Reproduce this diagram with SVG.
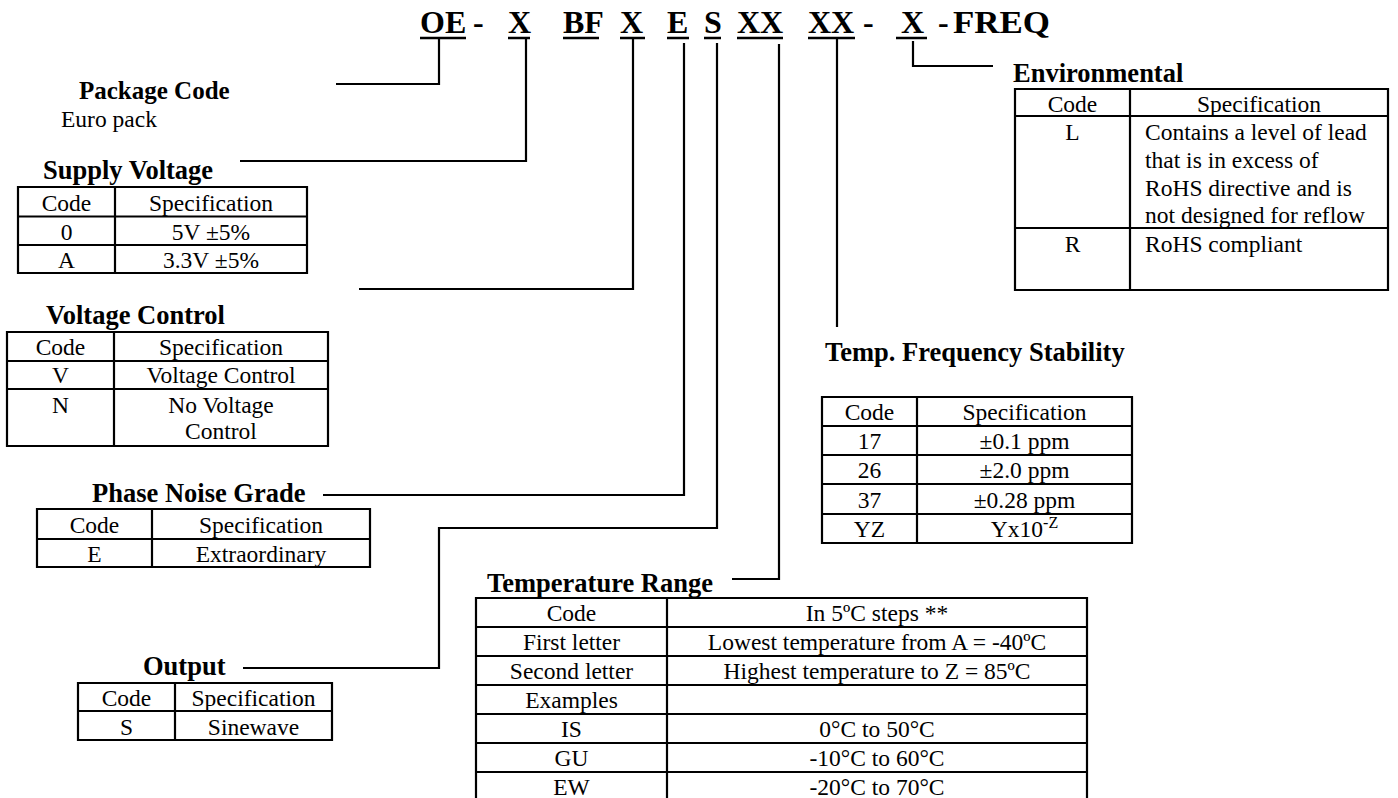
<svg xmlns="http://www.w3.org/2000/svg" width="1398" height="798" viewBox="0 0 1398 798">
<style>
text{font-family:"Liberation Serif","Times New Roman",serif;fill:#000}
.h{font-size:32px;font-weight:bold}
.b{font-size:26.5px;font-weight:bold}
.p{font-size:25px;font-weight:bold}
.t{font-size:23.5px}
.c{text-anchor:middle}
.ln{fill:none;stroke:#000;stroke-width:2.2}
.ul{fill:none;stroke:#000;stroke-width:2.6}
.tb{fill:none;stroke:#000;stroke-width:2.2}
</style>
<rect width="1398" height="798" fill="#fff"/>

<g id="part-number">
<text class="h" x="420" y="32.5">OE</text>
<text class="h" x="473" y="32.5">-</text>
<text class="h" x="508" y="32.5">X</text>
<text class="h" x="563" y="32.5">BF</text>
<text class="h" x="620" y="32.5">X</text>
<text class="h" x="667" y="32.5">E</text>
<text class="h" x="704" y="32.5">S</text>
<text class="h" x="737" y="32.5">XX</text>
<text class="h" x="808" y="32.5">XX</text>
<text class="h" x="863" y="32.5">-</text>
<text class="h" x="901" y="32.5">X</text>
<text class="h" x="938" y="32.5">-</text>
<text class="h" x="953" y="32.5" textLength="97" lengthAdjust="spacingAndGlyphs">FREQ</text>
<path class="ul" d="M420 38H466M508 38H530M563 38H599M620 38H645M667 38H689M704 38H721M737 38H783M808 38H855M896 38H927"/>
</g>

<g id="connectors">
<path class="ln" d="M439 39V84H336"/>
<path class="ln" d="M526 39V161H240"/>
<path class="ln" d="M633 39V289H359"/>
<path class="ln" d="M684 43V495H323"/>
<path class="ln" d="M717 43V528H439V668H243"/>
<path class="ln" d="M779 44V579H732"/>
<path class="ln" d="M837 39V327"/>
<path class="ln" d="M913 41V66H993"/>
</g>

<g id="package-code">
<text class="p" x="79" y="99">Package Code</text>
<text class="t" x="61" y="127">Euro pack</text>
</g>

<g id="supply-voltage">
<text class="b" x="43" y="179">Supply Voltage</text>
<path class="tb" d="M18 187H307V273H18ZM115 187V273M18 216.5H307M18 245H307"/>
<text class="t c" x="66.5" y="211">Code</text>
<text class="t c" x="211" y="211">Specification</text>
<text class="t c" x="66.5" y="240">0</text>
<text class="t c" x="211" y="240">5V ±5%</text>
<text class="t c" x="66.5" y="268">A</text>
<text class="t c" x="211" y="268">3.3V ±5%</text>
</g>

<g id="voltage-control">
<text class="b" x="46" y="324">Voltage Control</text>
<path class="tb" d="M7 332H328V446H7ZM114 332V446M7 361H328M7 389H328"/>
<text class="t c" x="60.5" y="355">Code</text>
<text class="t c" x="221" y="355">Specification</text>
<text class="t c" x="60.5" y="383">V</text>
<text class="t c" x="221" y="383">Voltage Control</text>
<text class="t c" x="60.5" y="413">N</text>
<text class="t c" x="221" y="413">No Voltage</text>
<text class="t c" x="221" y="439">Control</text>
</g>

<g id="phase-noise-grade">
<text class="b" x="92" y="502">Phase Noise Grade</text>
<path class="tb" d="M37 509H370V567H37ZM152 509V567M37 539H370"/>
<text class="t c" x="94.5" y="533">Code</text>
<text class="t c" x="261" y="533">Specification</text>
<text class="t c" x="94.5" y="562">E</text>
<text class="t c" x="261" y="562">Extraordinary</text>
</g>

<g id="output">
<text class="b" x="143" y="675">Output</text>
<path class="tb" d="M78 683H332V740H78ZM175 683V740M78 711H332"/>
<text class="t c" x="126.5" y="706">Code</text>
<text class="t c" x="253.5" y="706">Specification</text>
<text class="t c" x="126.5" y="735">S</text>
<text class="t c" x="253.5" y="735">Sinewave</text>
</g>

<g id="temperature-range">
<text class="b" x="487" y="592">Temperature Range</text>
<path class="tb" d="M476 802V598H1087V802M667 598V802M476 627H1087M476 656H1087M476 685H1087M476 714H1087M476 743H1087M476 772H1087"/>
<text class="t c" x="571.5" y="621">Code</text>
<text class="t c" x="877" y="621">In 5ºC steps **</text>
<text class="t c" x="571.5" y="650">First letter</text>
<text class="t c" x="877" y="650">Lowest temperature from A = -40ºC</text>
<text class="t c" x="571.5" y="679">Second letter</text>
<text class="t c" x="877" y="679">Highest temperature to Z = 85ºC</text>
<text class="t c" x="571.5" y="708">Examples</text>
<text class="t c" x="571.5" y="737">IS</text>
<text class="t c" x="877" y="737">0°C to 50°C</text>
<text class="t c" x="571.5" y="766">GU</text>
<text class="t c" x="877" y="766">-10°C to 60°C</text>
<text class="t c" x="571.5" y="795">EW</text>
<text class="t c" x="877" y="795">-20°C to 70°C</text>
</g>

<g id="temp-frequency-stability">
<text class="b" x="825" y="361">Temp. Frequency Stability</text>
<path class="tb" d="M822 397H1132V543H822ZM917 397V543M822 426H1132M822 455H1132M822 484H1132M822 514H1132"/>
<text class="t c" x="869.5" y="420">Code</text>
<text class="t c" x="1024.5" y="420">Specification</text>
<text class="t c" x="869.5" y="449">17</text>
<text class="t c" x="1024.5" y="449">±0.1 ppm</text>
<text class="t c" x="869.5" y="478">26</text>
<text class="t c" x="1024.5" y="478">±2.0 ppm</text>
<text class="t c" x="869.5" y="508">37</text>
<text class="t c" x="1024.5" y="508">±0.28 ppm</text>
<text class="t c" x="869.5" y="537">YZ</text>
<text class="t c" x="1024.5" y="537">Yx10<tspan font-size="16" dy="-9">-Z</tspan></text>
</g>

<g id="environmental">
<text class="b" x="1013" y="82">Environmental</text>
<path class="tb" d="M1015 89H1388V290H1015ZM1130 89V290M1015 116H1388M1015 228H1388"/>
<text class="t c" x="1072.5" y="112">Code</text>
<text class="t c" x="1259" y="112">Specification</text>
<text class="t c" x="1072.5" y="140">L</text>
<text class="t" x="1145" y="140">Contains a level of lead</text>
<text class="t" x="1145" y="168">that is in excess of</text>
<text class="t" x="1145" y="196">RoHS directive and is</text>
<text class="t" x="1145" y="223">not designed for reflow</text>
<text class="t c" x="1072.5" y="252">R</text>
<text class="t" x="1145" y="252">RoHS compliant</text>
</g>
</svg>
